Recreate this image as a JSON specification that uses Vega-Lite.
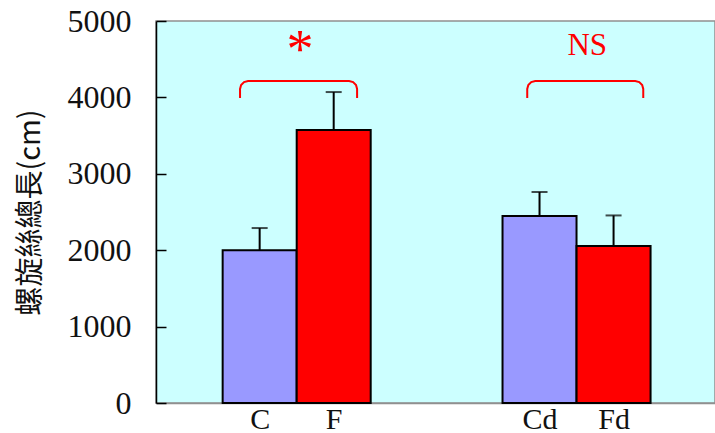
{
  "$schema": "https://vega.github.io/schema/vega-lite/v6.json",
  "width": 559,
  "height": 382,
  "autosize": {"type": "none"},
  "padding": {"left": 156, "top": 21, "right": 0, "bottom": 30},
  "background": "white",
  "config": {
    "view": {"fill": "#ccffff", "stroke": "#909090", "strokeWidth": 1.5},
    "axis": {"grid": false}
  },
  "datasets": {
    "bars": [
      {"label": "C", "treatment": "C", "pos": 1, "mean": 2000, "upper": 2290},
      {"label": "F", "treatment": "F", "pos": 2, "mean": 3573, "upper": 4070},
      {"label": "Cd", "treatment": "C", "pos": 4.78, "mean": 2448, "upper": 2762},
      {"label": "Fd", "treatment": "F", "pos": 5.78, "mean": 2055, "upper": 2455}
    ],
    "brackets": [
      {"id": "a", "i": 0, "bx": 0.735, "by": 3992},
      {"id": "a", "i": 1, "bx": 0.735, "by": 4110},
      {"id": "a", "i": 2, "bx": 0.7495, "by": 4162},
      {"id": "a", "i": 3, "bx": 0.789, "by": 4201},
      {"id": "a", "i": 4, "bx": 0.843, "by": 4215},
      {"id": "a", "i": 5, "bx": 2.208, "by": 4215},
      {"id": "a", "i": 6, "bx": 2.262, "by": 4201},
      {"id": "a", "i": 7, "bx": 2.3015, "by": 4162},
      {"id": "a", "i": 8, "bx": 2.316, "by": 4110},
      {"id": "a", "i": 9, "bx": 2.316, "by": 3992},
      {"id": "b", "i": 0, "bx": 4.614, "by": 3992},
      {"id": "b", "i": 1, "bx": 4.614, "by": 4110},
      {"id": "b", "i": 2, "bx": 4.6285, "by": 4162},
      {"id": "b", "i": 3, "bx": 4.668, "by": 4201},
      {"id": "b", "i": 4, "bx": 4.722, "by": 4215},
      {"id": "b", "i": 5, "bx": 6.073, "by": 4215},
      {"id": "b", "i": 6, "bx": 6.127, "by": 4201},
      {"id": "b", "i": 7, "bx": 6.1665, "by": 4162},
      {"id": "b", "i": 8, "bx": 6.181, "by": 4110},
      {"id": "b", "i": 9, "bx": 6.181, "by": 3992}
    ],
    "marks": [
      {"text": "*", "tx": 1.546, "ty": 4400, "kind": "star"},
      {"text": "NS", "tx": 5.424, "ty": 4555, "kind": "ns"}
    ]
  },
  "layer": [
    {
      "data": {"name": "bars"},
      "mark": {"type": "rule", "color": "black", "strokeWidth": 2},
      "encoding": {
        "x": {"field": "pos", "type": "quantitative", "scale": {"domain": [-0.4, 7.15], "nice": false, "zero": false, "padding": 0},
          "axis": {"values": [1, 2, 4.78, 5.78], "labelExpr": "datum.value < 1.5 ? 'C' : datum.value < 3 ? 'F' : datum.value < 5 ? 'Cd' : 'Fd'",
            "ticks": false, "domainColor": "#909090", "domainWidth": 1.5, "labelFont": "Liberation Serif", "labelFontSize": 30, "labelColor": "#111111", "labelPadding": 1, "title": null}},
        "y": {"field": "mean", "type": "quantitative", "scale": {"domain": [0, 5000], "nice": false, "padding": 0},
          "axis": {"values": [0, 1000, 2000, 3000, 4000, 5000], "format": "d", "tickSize": -10, "tickColor": "black", "tickWidth": 1.5, "domainColor": "black", "domainWidth": 1.5,
            "labelFont": "Liberation Serif", "labelFontSize": 32, "labelColor": "#111111", "labelPadding": 35,
            "title": "螺旋絲總長(cm)", "titleFont": "Noto Sans CJK TC", "titleFontSize": 29, "titleFontWeight": "normal", "titleColor": "#111111", "titlePadding": 22}},
        "y2": {"field": "upper"}
      }
    },
    {
      "data": {"name": "bars"},
      "mark": {"type": "tick", "orient": "horizontal", "size": 16, "thickness": 2, "color": "black"},
      "encoding": {
        "x": {"field": "pos", "type": "quantitative"},
        "y": {"field": "upper", "type": "quantitative"}
      }
    },
    {
      "data": {"name": "bars"},
      "mark": {"type": "bar", "size": 74, "stroke": "black", "strokeWidth": 2},
      "encoding": {
        "x": {"field": "pos", "type": "quantitative"},
        "y": {"field": "mean", "type": "quantitative"},
        "color": {"field": "treatment", "type": "nominal", "scale": {"domain": ["C", "F"], "range": ["#9999ff", "#ff0000"]}, "legend": null}
      }
    },
    {
      "data": {"name": "brackets"},
      "mark": {"type": "line", "color": "#ff0000", "strokeWidth": 2},
      "encoding": {
        "x": {"field": "bx", "type": "quantitative"},
        "y": {"field": "by", "type": "quantitative"},
        "detail": {"field": "id"},
        "order": {"field": "i", "type": "quantitative"}
      }
    },
    {
      "data": {"name": "marks"},
      "mark": {"type": "text", "color": "#ff0000", "font": "Liberation Serif", "fontSize": 30, "baseline": "alphabetic", "align": "center"},
      "encoding": {
        "x": {"field": "tx", "type": "quantitative"},
        "y": {"field": "ty", "type": "quantitative"},
        "text": {"field": "text"},
        "size": {"field": "kind", "type": "nominal", "scale": {"domain": ["star", "ns"], "range": [54, 31]}, "legend": null}
      }
    }
  ]
}
